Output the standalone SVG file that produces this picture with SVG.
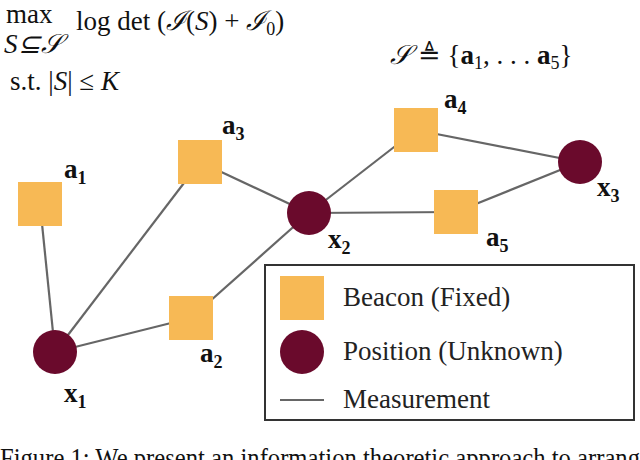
<svg xmlns="http://www.w3.org/2000/svg" width="640" height="460" viewBox="0 0 640 460">
<style>
.b{fill:#F7B955}
.p{fill:#6A0A2C}
.e{stroke:#666;stroke-width:2.2;fill:none}
.l{font-family:"Liberation Serif",serif;font-weight:bold;font-size:27px;fill:#111}
.s{font-size:18px}
.t{font-family:"Liberation Serif",serif;font-size:27px;fill:#222}
.m{font-family:"Liberation Serif",serif;font-size:27px;fill:#111}
</style>
<rect width="640" height="460" fill="#fff"/>
<g id="connectors" class="e">
<line x1="40" y1="204" x2="55" y2="352"/>
<line x1="55" y1="352" x2="191" y2="318"/>
<line x1="55" y1="352" x2="200" y2="162"/>
<line x1="200" y1="162" x2="309" y2="213"/>
<line x1="191" y1="318" x2="309" y2="213"/>
<line x1="309" y1="213" x2="416" y2="130"/>
<line x1="309" y1="213" x2="456" y2="212"/>
<line x1="416" y1="130" x2="580" y2="162"/>
<line x1="456" y1="212" x2="580" y2="162"/>
</g>
<g id="a1"><rect class="b" x="18" y="182" width="44" height="44"/><text class="l" x="64" y="178">a<tspan class="s" dy="6">1</tspan></text></g>
<g id="a3"><rect class="b" x="178" y="140" width="44" height="44"/><text class="l" x="222" y="134">a<tspan class="s" dy="6">3</tspan></text></g>
<g id="a2"><rect class="b" x="169" y="296" width="44" height="44"/><text class="l" x="200" y="362">a<tspan class="s" dy="6">2</tspan></text></g>
<g id="a4"><rect class="b" x="394" y="108" width="44" height="44"/><text class="l" x="444" y="108">a<tspan class="s" dy="6">4</tspan></text></g>
<g id="a5"><rect class="b" x="434" y="190" width="44" height="44"/><text class="l" x="486" y="246">a<tspan class="s" dy="6">5</tspan></text></g>
<g id="x1"><circle class="p" cx="55" cy="352" r="22"/><text class="l" x="64" y="402">x<tspan class="s" dy="6">1</tspan></text></g>
<g id="x2"><circle class="p" cx="309" cy="213" r="22"/><text class="l" x="328" y="248">x<tspan class="s" dy="6">2</tspan></text></g>
<g id="x3"><circle class="p" cx="580" cy="162" r="22"/><text class="l" x="597" y="196">x<tspan class="s" dy="6">3</tspan></text></g>
<g id="legend">
<rect x="265" y="265" width="369" height="155" fill="#fff" stroke="#333" stroke-width="2"/>
<rect class="b" x="280" y="276" width="44" height="44"/>
<circle class="p" cx="302" cy="352" r="22"/>
<line class="e" x1="280" y1="400" x2="324" y2="400"/>
<text class="t" x="343" y="306">Beacon (Fixed)</text>
<text class="t" x="343" y="360">Position (Unknown)</text>
<text class="t" x="343" y="408">Measurement</text>
</g>
<g id="formula">
<text class="m" x="6" y="23" font-size="20">max</text>
<text class="m" x="4" y="53" font-size="15" font-style="italic">S⊆𝒮</text>
<text class="m" x="76" y="30">log det (<tspan font-style="italic">ℐ</tspan>(<tspan font-style="italic">S</tspan>) + <tspan font-style="italic">ℐ</tspan><tspan font-size="18" dy="5">0</tspan><tspan dy="-5">)</tspan></text>
<text class="m" x="10" y="90">s.t. |<tspan font-style="italic">S</tspan>| ≤ <tspan font-style="italic">K</tspan></text>
<text class="m" x="390" y="64"><tspan font-style="italic">𝒮</tspan> ≜ {<tspan font-weight="bold">a</tspan><tspan font-size="18" dy="5">1</tspan><tspan dy="-5">, . . . </tspan><tspan font-weight="bold">a</tspan><tspan font-size="18" dy="5">5</tspan><tspan dy="-5">}</tspan></text>
</g>
<text class="m" x="0" y="467" font-size="21" textLength="640" lengthAdjust="spacingAndGlyphs">Figure 1: We present an information theoretic approach to arrang</text>
</svg>
